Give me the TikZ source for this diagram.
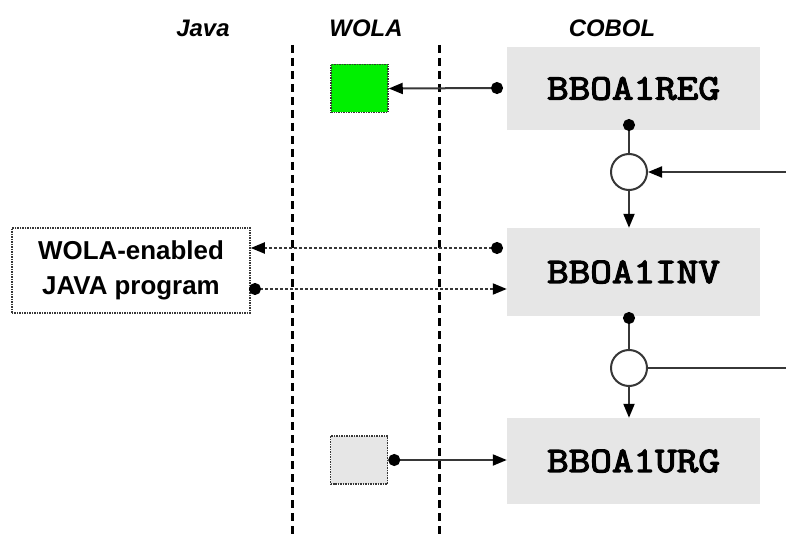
\documentclass[tikz,border=0pt]{standalone}
\usepackage{fontspec}
\setmainfont{Liberation Sans}
\newfontfamily\codefont{Latin Modern Mono}[FakeBold=3.5, FakeStretch=1.17]
\usetikzlibrary{arrows.meta}
\definecolor{boxgray}{RGB}{230,230,230}
\definecolor{wire}{RGB}{55,55,55}
\definecolor{regreen}{RGB}{0,240,0}
\begin{document}
\begin{tikzpicture}[x=1bp,y=-1bp,
  title/.style={font=\fontsize{24}{30}\selectfont\bfseries\itshape},
  module/.style={fill=boxgray, minimum width=253bp, inner sep=0pt,
    font=\fontsize{36}{40}\selectfont\codefont},
  slot/.style={draw=wire, densely dotted, line width=1.5bp,
    minimum width=57bp, minimum height=48bp, inner sep=0pt},
  junction/.style={circle, draw=wire, fill=white, line width=2bp,
    minimum size=36bp, inner sep=0pt},
  lane/.style={line width=3bp, dash pattern=on 8bp off 5bp},
  wire/.style={draw=wire, line width=2bp},
  calltip/.style={-{Triangle[length=14bp,width=11bp,black]}},
  dottip/.style={{Circle[length=12bp,black]}-},
  bothtips/.style={{Circle[length=12bp,black]}-{Triangle[length=14bp,width=11bp,black]}},
  callflow/.style={draw=wire, line width=2bp, dash pattern=on 3bp off 2bp}]
\useasboundingbox (0,0) rectangle (786,538);

% column headings
\node[title] (hjava)  at (203,28) {Java};
\node[title] (hwola)  at (366,28) {WOLA};
\node[title] (hcobol) at (612,28) {COBOL};

% lane separators
\coordinate (l1top) at (292,45);  \coordinate (l1bot) at (292,538);
\coordinate (l2top) at (439,45);  \coordinate (l2bot) at (439,538);
\draw[lane] (l1top) -- (l1bot);
\draw[lane] (l2top) -- (l2bot);

% COBOL API calls
\node[module, minimum height=83bp] (reg) at (633.5,88.5) {BBOA1REG};
\node[module, minimum height=88bp] (inv) at (633.5,272) {BBOA1INV};
\node[module, minimum height=86bp] (urg) at (633.5,461) {BBOA1URG};

% WOLA registration slots
\node[slot, fill=regreen] (wreg) at (359.5,88.5) {};
\node[slot, fill=boxgray] (wurg) at (359,460) {};

% Java side
\node[draw=wire, densely dotted, line width=1.5bp, minimum width=238bp,
  minimum height=85bp, align=center,
  font=\fontsize{26}{35}\selectfont\bfseries] (java) at (131,270.5)
  {WOLA-enabled\\JAVA program};

% junctions
\node[junction] (j1) at (629,172) {};
\node[junction] (j2) at (629,368) {};

% connector end points
\coordinate (regleft) at (503,88);
\coordinate (regdown) at (629,119);
\coordinate (invdown) at (629,312);
\coordinate (loopin)  at (786,172);
\coordinate (loopout) at (786,368);
\coordinate (invcall) at (503,248);
\coordinate (javaret) at (249,289);

% registration
\draw[wire, bothtips] (regleft) -- (wreg.east);
% main flow
\draw[wire, dottip] (regdown) -- (j1.north);
\draw[wire, calltip] (loopin) -- (j1.east);
\draw[wire, calltip] (j1.south) -- (j1.south |- inv.north);
\draw[wire, dottip] (invdown) -- (j2.north);
\draw[wire] (j2.east) -- (loopout);
\draw[wire, calltip] (j2.south) -- (j2.south |- urg.north);
% invocation of the Java program
\draw[callflow, bothtips] (invcall) -- (invcall -| java.east);
\draw[callflow, bothtips] (javaret) -- (javaret -| inv.west);
% unregistration
\draw[wire, bothtips] (wurg.east) -- (wurg.east -| urg.west);
\end{tikzpicture}
\end{document}
